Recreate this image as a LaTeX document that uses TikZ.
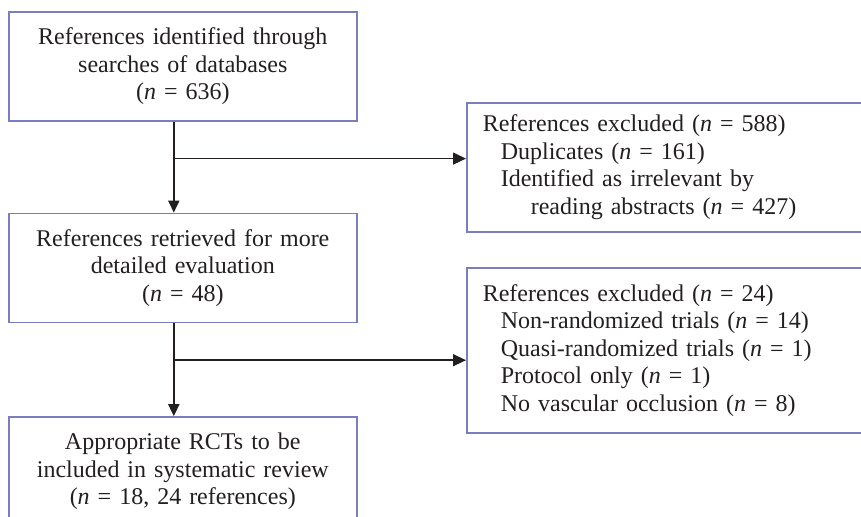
\documentclass[tikz,border=0pt]{standalone}
\usepackage{fontspec}
\setmainfont{Liberation Serif}
\usepackage{xcolor}
\usepackage{tikz}
\usetikzlibrary{shapes,arrows.meta,positioning}

\definecolor{boxblue}{RGB}{122,126,192}
\definecolor{inkdark}{RGB}{35,31,32}
\newcommand{\ncnt}[1]{(\textit{n} = #1)}

\begin{document}
\begin{tikzpicture}[
  x=0.5pt, y=-0.5pt,
  font=\fontsize{12}{13.75}\selectfont,
  text=inkdark,
  node distance=45.5pt,
  box/.style={rectangle, draw=boxblue, line width=0.8pt, minimum width=174pt, minimum height=54.5pt, text width=170pt, align=center, inner sep=0pt},
  exbox/.style={rectangle, draw=boxblue, line width=0.8pt, anchor=north west, minimum width=207pt, text width=191pt, align=left, inner xsep=8pt, inner ysep=0pt},
  arrow/.style={-{Triangle[length=6pt, width=5.5pt]}, line width=0.9pt, draw=inkdark},
  branch/.style={line width=0.7pt, draw=inkdark}
]
\useasboundingbox (0,0) rectangle (861,517);
\clip (0,0) rectangle (861,517);

\node[box, anchor=north west] (id) at (8,11) {References identified through\\ searches of databases\\ \ncnt{636}};
\node[box, below=of id] (ret) {References retrieved for more\\ detailed evaluation\\ \ncnt{48}};
\node[box, below=46.5pt of ret] (inc) {Appropriate RCTs to be\\ included in systematic review\\ (\textit{n} = 18, 24 references)};

\node[exbox, minimum height=64.5pt] (exa) at (466,102) {References excluded \ncnt{588}\\
  \hspace*{9pt}Duplicates \ncnt{161}\\
  \hspace*{9pt}Identified as irrelevant by\\
  \hspace*{24pt}reading abstracts \ncnt{427}};
\node[exbox, minimum height=82.5pt] (exb) at (466,267) {References excluded \ncnt{24}\\
  \hspace*{9pt}Non-randomized trials \ncnt{14}\\
  \hspace*{9pt}Quasi-randomized trials \ncnt{1}\\
  \hspace*{9pt}Protocol only \ncnt{1}\\
  \hspace*{9pt}No vascular occlusion \ncnt{8}};

% main flow
\coordinate (bra) at ([xshift=-4.5pt, yshift=-18.5pt]id.south);
\coordinate (brb) at ([xshift=-4.5pt, yshift=-18.5pt]ret.south);
\draw[arrow] ([xshift=-4.5pt]id.south) -- ([xshift=-4.5pt]ret.north);
\draw[arrow] ([xshift=-4.5pt]ret.south) -- ([xshift=-4.5pt]inc.north);

% exclusions
\draw[branch, -{Triangle[length=6.5pt, width=6pt]}] (bra) -- (bra -| exa.west);
\draw[branch, -{Triangle[length=6.5pt, width=6pt]}] (brb) -- (brb -| exb.west);
\end{tikzpicture}
\end{document}
